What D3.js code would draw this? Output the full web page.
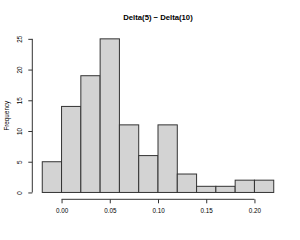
<!DOCTYPE html>
<html><head><meta charset="utf-8">
<script src="https://cdn.jsdelivr.net/npm/d3@7"></script>
<style>body{margin:0;background:#fff}svg{display:block}text{font-family:"Liberation Sans",Arial,sans-serif}</style>
</head><body><svg id="c" width="300" height="240"></svg>
<script>
const binEdges = [-0.02,0.00,0.02,0.04,0.06,0.08,0.10,0.12,0.14,0.16,0.18,0.20,0.22];
const counts = [5,14,19,25,11,6,11,3,1,1,2,2];
const xTicks = [0.00,0.05,0.10,0.15,0.20];
const xTickLabels = ["0.00","0.05","0.10","0.15","0.20"];
const yTicks = [0,5,10,15,20,25];
const title = "Delta(5) \u2212 Delta(10)";
const yTitle = "Frequency";

const svg = d3.select("#c");
const x = d3.scaleLinear().domain([-0.0296,0.2296]).range([33,283]);
const y = d3.scaleLinear().domain([-1,26]).range([198.6,32.7]);

const bins = counts.map((c,i)=>({x0:binEdges[i],x1:binEdges[i+1],c}));
svg.append("g").selectAll("rect").data(bins).join("rect")
  .attr("x",d=>x(d.x0)).attr("width",d=>x(d.x1)-x(d.x0))
  .attr("y",d=>y(d.c)).attr("height",d=>y(0)-y(d.c))
  .attr("fill","#d3d3d3").attr("stroke","#333").attr("stroke-width",1);

// x axis
const xa = svg.append("g").attr("transform","translate(0,199.3)")
  .call(d3.axisBottom(x).tickValues(xTicks).tickFormat((d,i)=>xTickLabels[i]).tickSize(4).tickPadding(5));
xa.select(".domain").remove();
xa.append("line").attr("x1",x(xTicks[0])).attr("x2",x(xTicks[xTicks.length-1]))
  .attr("stroke","#333");
xa.selectAll(".tick line").attr("stroke","#333");
xa.selectAll("text").attr("font-size",6.3).attr("fill","#000").attr("font-family","Liberation Sans, Arial, sans-serif");

// y axis
const ya = svg.append("g").attr("transform","translate(32.3,0)")
  .call(d3.axisLeft(y).tickValues(yTicks).tickSize(4).tickFormat(d3.format("d")));
ya.select(".domain").remove();
ya.append("line").attr("y1",y(yTicks[0])).attr("y2",y(yTicks[yTicks.length-1])).attr("stroke","#333");
ya.selectAll(".tick line").attr("stroke","#333");
ya.selectAll("text").attr("font-size",6.3).attr("fill","#000")
  .attr("font-family","Liberation Sans, Arial, sans-serif")
  .attr("x",0).attr("dy",0)
  .attr("transform","translate(-10.5,0) rotate(-90)")
  .attr("text-anchor","middle").attr("dominant-baseline","auto");

svg.append("text").attr("x",158).attr("y",20.3).attr("text-anchor","middle")
  .attr("font-size",7.7).attr("font-weight","bold").text(title);
svg.append("text").attr("transform","translate(8.8,115.7) rotate(-90)")
  .attr("text-anchor","middle").attr("font-size",6.3).text(yTitle);
</script></body></html>
